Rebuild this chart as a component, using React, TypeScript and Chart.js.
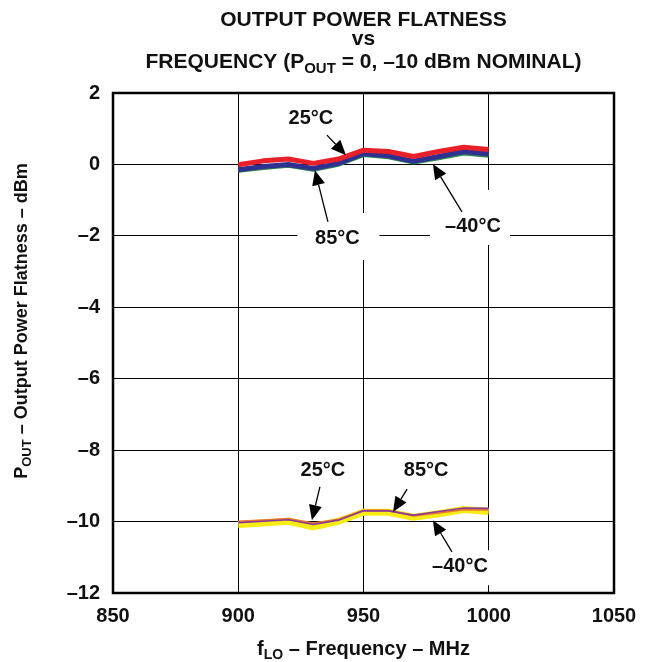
import React, { useEffect, useRef } from 'react';
import { Chart, registerables } from 'chart.js';

Chart.register(...registerables);

const FONT = '"Liberation Sans", Arial, Helvetica, sans-serif';

// ---- data ----
const freqs = [900, 910, 920, 930, 940, 950, 960, 970, 980, 990, 1000];
const hi25 = [-0.01, 0.1, 0.15, 0.03, 0.15, 0.4, 0.36, 0.22, 0.36, 0.48, 0.42];
const hi85 = [-0.15, -0.06, 0.0, -0.11, 0.03, 0.3, 0.24, 0.09, 0.22, 0.36, 0.29];
const hiM40 = [-0.17, -0.09, -0.03, -0.14, 0.0, 0.27, 0.21, 0.06, 0.18, 0.31, 0.25];
const lo25 = [-10.0, -9.96, -9.92, -10.05, -9.94, -9.69, -9.69, -9.84, -9.75, -9.66, -9.67];
const lo85 = [-10.03, -9.99, -9.95, -10.08, -9.96, -9.7, -9.7, -9.82, -9.72, -9.62, -9.63];
const loM40 = [-10.08, -10.04, -9.99, -10.15, -9.99, -9.74, -9.74, -9.88, -9.78, -9.66, -9.72];

const xMin = 850;
const xMax = 1050;
const xStep = 50;
const yMin = -12;
const yMax = 2;
const yStep = 2;

const titleLines = [
  [['OUTPUT POWER FLATNESS', false]],
  [['vs', false]],
  [['FREQUENCY (P', false], ['OUT', true], [' = 0, –10 dBm NOMINAL)', false]],
];
const xTitle = [['f', false], ['LO', true], [' – Frequency – MHz', false]];
const yTitle = [['P', false], ['OUT', true], [' – Output Power Flatness – dBm', false]];

// annotation labels: text position and arrow in data coordinates, white box offsets in px
const notes = [
  { text: '25°C', x: 929, y: 1.3, tail: [935.4, 0.82], tip: [943, 0.26], box: null },
  { text: '85°C', x: 939.6, y: -2.06, tail: [935.8, -1.61], tip: [930.6, -0.16], box: [40, 25, 42, 22] },
  { text: '–40°C', x: 993.7, y: -1.75, tail: [989.3, -1.33], tip: [977.7, 0.01], box: [43, 37, 37, 18] },
  { text: '25°C', x: 933.8, y: -8.56, tail: [932.6, -9.03], tip: [929.4, -9.96], box: null },
  { text: '85°C', x: 975, y: -8.56, tail: [967.4, -9.09], tip: [961.8, -9.73], box: null },
  { text: '–40°C', x: 988.5, y: -11.25, tail: [985.3, -10.85], tip: [977.7, -9.96], box: [32, 16, 35, 19] },
];

type Part = [string, boolean];

function partsWidth(ctx: CanvasRenderingContext2D, parts: Part[], size: number) {
  let w = 0;
  for (const [t, sub] of parts) {
    ctx.font = `bold ${sub ? Math.round(size * 0.72) : size}px ${FONT}`;
    w += ctx.measureText(t).width;
  }
  return w;
}

function drawParts(ctx: CanvasRenderingContext2D, parts: Part[], cx: number, baseline: number, size: number) {
  const w = partsWidth(ctx, parts, size);
  let x = cx - w / 2;
  ctx.textAlign = 'left';
  ctx.textBaseline = 'alphabetic';
  for (const [t, sub] of parts) {
    ctx.font = `bold ${sub ? Math.round(size * 0.72) : size}px ${FONT}`;
    ctx.fillText(t, x, baseline + (sub ? size * 0.22 : 0));
    x += ctx.measureText(t).width;
  }
}

function drawArrow(ctx: CanvasRenderingContext2D, x1: number, y1: number, x2: number, y2: number) {
  const ang = Math.atan2(y2 - y1, x2 - x1);
  const hl = 15;
  const hw = 6.5;
  const bx = x2 - hl * Math.cos(ang);
  const by = y2 - hl * Math.sin(ang);
  ctx.strokeStyle = '#000';
  ctx.lineWidth = 1.3;
  ctx.beginPath();
  ctx.moveTo(x1, y1);
  ctx.lineTo(bx, by);
  ctx.stroke();
  ctx.fillStyle = '#000';
  ctx.beginPath();
  ctx.moveTo(x2, y2);
  ctx.lineTo(bx + hw * Math.sin(ang), by - hw * Math.cos(ang));
  ctx.lineTo(bx - hw * Math.sin(ang), by + hw * Math.cos(ang));
  ctx.closePath();
  ctx.fill();
}

const overlay = {
  id: 'overlay',
  afterDatasetsDraw(chart: any) {
    const ctx: CanvasRenderingContext2D = chart.ctx;
    const { left, right, top, bottom } = chart.chartArea;
    const xs = chart.scales.x;
    const ys = chart.scales.y;
    ctx.save();
    // white boxes behind labels
    ctx.fillStyle = '#fff';
    for (const n of notes) {
      if (!n.box) continue;
      const px = xs.getPixelForValue(n.x);
      const py = ys.getPixelForValue(n.y);
      const [l, t, r, b] = n.box;
      ctx.fillRect(px - l, py - t, l + r, t + b);
    }
    // frame
    ctx.strokeStyle = '#000';
    ctx.lineWidth = 2.5;
    ctx.strokeRect(left, top, right - left, bottom - top);
    // labels + arrows
    for (const n of notes) {
      const px = xs.getPixelForValue(n.x);
      const py = ys.getPixelForValue(n.y);
      ctx.fillStyle = '#111';
      ctx.font = `bold 20px ${FONT}`;
      ctx.textAlign = 'center';
      ctx.textBaseline = 'middle';
      ctx.fillText(n.text, px, py);
      drawArrow(
        ctx,
        xs.getPixelForValue(n.tail[0]),
        ys.getPixelForValue(n.tail[1]),
        xs.getPixelForValue(n.tip[0]),
        ys.getPixelForValue(n.tip[1])
      );
    }
    // titles
    const cx = (left + right) / 2;
    ctx.fillStyle = '#111';
    const baselines = [26, 45, 68];
    titleLines.forEach((parts, i) => drawParts(ctx, parts as Part[], cx, baselines[i], 21));
    drawParts(ctx, xTitle as Part[], cx, 655, 20);
    ctx.translate(27, (top + bottom) / 2 - 22);
    ctx.rotate(-Math.PI / 2);
    drawParts(ctx, yTitle as Part[], 0, 0, 18);
    ctx.restore();
  },
};

export default function App() {
  const ref = useRef<HTMLCanvasElement | null>(null);
  useEffect(() => {
    if (!ref.current) return;
    const mk = (label: string, data: number[], color: string, width: number, order: number) => ({
      label,
      data: freqs.map((f, i) => ({ x: f, y: data[i] })),
      borderColor: color,
      backgroundColor: color,
      borderWidth: width,
      pointRadius: 0,
      tension: 0,
      fill: false,
      order,
      borderJoinStyle: 'round' as const,
    });
    const chart = new Chart(ref.current, {
      type: 'line',
      data: {
        datasets: [
          mk('25°C (0 dBm)', hi25, '#e8202a', 5, 0),
          mk('85°C (0 dBm)', hi85, '#2e3192', 5, 1),
          mk('–40°C (0 dBm)', hiM40, '#2f8a4c', 4.5, 2),
          mk('85°C (–10 dBm)', lo85, '#8b3a9c', 1.6, 3),
          mk('25°C (–10 dBm)', lo25, '#e8772e', 2, 4),
          mk('–40°C (–10 dBm)', loM40, '#f7ec13', 7, 5),
        ],
      },
      options: {
        animation: false,
        responsive: false,
        devicePixelRatio: 1,
        layout: { padding: { left: 0, top: 93, right: 35, bottom: 0 } },
        plugins: { legend: { display: false }, title: { display: false }, tooltip: { enabled: false } },
        scales: {
          x: {
            type: 'linear',
            min: xMin,
            max: xMax,
            border: { display: false },
            grid: { color: '#000', lineWidth: 1, drawTicks: false },
            ticks: {
              stepSize: xStep,
              padding: 11,
              color: '#111',
              font: { family: FONT, size: 20, weight: 'bold' },
              callback: (v: any) => String(v),
            },
            afterFit: (s: any) => {
              s.height = 69;
            },
          },
          y: {
            type: 'linear',
            min: yMin,
            max: yMax,
            border: { display: false },
            grid: { color: '#000', lineWidth: 1, drawTicks: false },
            ticks: {
              stepSize: yStep,
              padding: 13,
              color: '#111',
              font: { family: FONT, size: 20, weight: 'bold' },
              callback: (v: any) => (v < 0 ? '–' + Math.abs(v) : String(v)),
            },
            afterFit: (s: any) => {
              s.width = 113;
            },
          },
        },
      },
      plugins: [overlay],
    } as any);
    return () => chart.destroy();
  }, []);
  return (
    <div style={{ position: 'fixed', left: 0, top: 0, width: 649, height: 662, background: '#fff' }}>
      <canvas ref={ref} width={649} height={662} style={{ width: 649, height: 662, display: 'block' }} />
    </div>
  );
}
